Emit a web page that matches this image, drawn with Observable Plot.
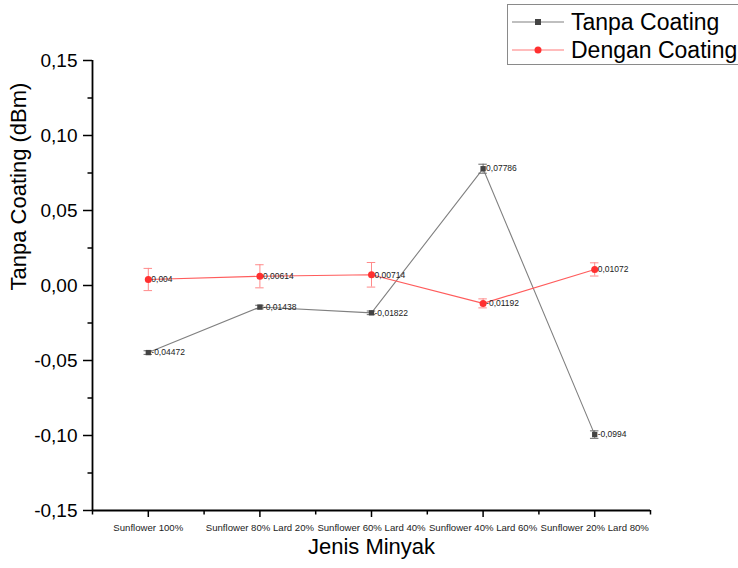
<!DOCTYPE html>
<html>
<head>
<meta charset="utf-8">
<script src="https://cdn.jsdelivr.net/npm/d3@7"></script>
<script src="https://cdn.jsdelivr.net/npm/@observablehq/plot@0.6"></script>
<style>
  html, body { margin: 0; padding: 0; background: #fff; overflow: hidden; }
  #wrap { position: relative; width: 738px; height: 568px; font-family: "Liberation Sans", Arial, sans-serif; }
  #legend { position: absolute; left: 507px; top: 4px; width: 250px; height: 61px; border: 1.5px solid #8a8a8a; background: #fff; box-sizing: border-box; }
  .lg-row { position: absolute; left: 0; height: 28px; width: 250px; }
  .lg-row svg { position: absolute; left: 0; top: 0; }
  .lg-row span { position: absolute; left: 63px; top: 0; line-height: 28px; font-size: 23px; color: #000; white-space: nowrap; }
</style>
</head>
<body>
<div id="wrap">
  <div id="chart"></div>
  <div id="legend"></div>
</div>
<script>
const categories = ["Sunflower 100%", "Sunflower 80% Lard 20%", "Sunflower 60% Lard 40%", "Sunflower 40% Lard 60%", "Sunflower 20% Lard 80%"];
const tanpaCoating = [-0.04472, -0.01438, -0.01822, 0.07786, -0.0994];
const tanpaError = [0.0012, 0.0012, 0.0012, 0.003, 0.0025];
const denganCoating = [0.004, 0.00614, 0.00714, -0.01192, 0.01072];
const denganError = [0.0074, 0.0077, 0.0082, 0.003, 0.0044];
const seriesNames = ["Tanpa Coating", "Dengan Coating"];
const yTicks = [-0.15, -0.10, -0.05, 0, 0.05, 0.10, 0.15];
const yMinorTicks = [-0.125, -0.075, -0.025, 0.025, 0.075, 0.125];
const xTicks = [1, 2, 3, 4, 5];
const xMinorTicks = [0.5, 1.5, 2.5, 3.5, 4.5, 5.5];
const yTitle = "Tanpa Coating (dBm)";
const xTitle = "Jenis Minyak";

const comma = v => String(v).replace(".", ",");
const tRows = tanpaCoating.map((v, i) => ({x: i + 1, y: v, e: tanpaError[i]}));
const dRows = denganCoating.map((v, i) => ({x: i + 1, y: v, e: denganError[i]}));

const grayLine = "#808080", grayMark = "#444444", grayErr = "#6a6a6a";
const redLine = "#ff5c5c", redMark = "#ff3030", redErr = "#ff8a8a";
const capHalf = 0.038;

function errMarks(rows, color) {
  return [
    Plot.ruleX(rows, {x: "x", y1: d => d.y - d.e, y2: d => d.y + d.e, stroke: color, strokeWidth: 1}),
    Plot.ruleY(rows, {y: d => d.y + d.e, x1: d => d.x - capHalf, x2: d => d.x + capHalf, stroke: color, strokeWidth: 1}),
    Plot.ruleY(rows, {y: d => d.y - d.e, x1: d => d.x - capHalf, x2: d => d.x + capHalf, stroke: color, strokeWidth: 1})
  ];
}

const chart = Plot.plot({
  width: 738,
  height: 568,
  marginLeft: 92,
  marginRight: 88,
  marginTop: 60,
  marginBottom: 58,
  style: {fontFamily: "'Liberation Sans', Arial, sans-serif", background: "#fff", color: "#000", overflow: "visible"},
  x: {domain: [0.5, 5.5]},
  y: {domain: [-0.15, 0.15]},
  marks: [
    Plot.axisY({ticks: yTicks, tickSize: 9, tickPadding: 6, tickFormat: d => d.toFixed(2).replace(".", ","), fontSize: 19, label: null, strokeWidth: 1.5}),
    Plot.axisY({ticks: yMinorTicks, tickSize: 4.5, tickFormat: () => "", label: null, strokeWidth: 1.5}),
    Plot.axisX({ticks: xTicks, tickSize: 7, tickPadding: 7, tickFormat: d => categories[d - 1], fontSize: 9.6, fill: "#222", label: null, strokeWidth: 1.5}),
    Plot.axisX({ticks: xMinorTicks, tickSize: 4.5, tickFormat: () => "", label: null, strokeWidth: 1.5}),
    Plot.ruleX([0.5], {stroke: "#000", strokeWidth: 1.8}),
    Plot.ruleY([-0.15], {stroke: "#000", strokeWidth: 1.8}),
    Plot.text([yTitle], {frameAnchor: "left", dx: -74, dy: 5, rotate: -90, fontSize: 22, fill: "#000"}),
    Plot.text([xTitle], {frameAnchor: "bottom", dy: 43, fontSize: 22, fill: "#000"}),
    Plot.line(tRows, {x: "x", y: "y", stroke: grayLine, strokeWidth: 1.1}),
    Plot.line(dRows, {x: "x", y: "y", stroke: redLine, strokeWidth: 1.1}),
    ...errMarks(tRows, grayErr),
    ...errMarks(dRows, redErr),
    Plot.dot(tRows, {x: "x", y: "y", symbol: "square", r: 3, fill: grayMark, stroke: "none"}),
    Plot.dot(dRows, {x: "x", y: "y", r: 3.5, fill: redMark, stroke: "none"}),
    Plot.text(tRows, {x: "x", y: "y", text: d => comma(d.y), textAnchor: "start", dx: 3, fontSize: 8.5, fill: "#222"}),
    Plot.text(dRows, {x: "x", y: "y", text: d => comma(d.y), textAnchor: "start", dx: 3, fontSize: 8.5, fill: "#222"})
  ]
});
document.getElementById("chart").appendChild(chart);

// Legend
const legend = document.getElementById("legend");
const styles = [
  {line: grayLine, mark: grayMark, shape: "square"},
  {line: "#ff7a7a", mark: redMark, shape: "circle"}
];
seriesNames.forEach((name, i) => {
  const row = document.createElement("div");
  row.className = "lg-row";
  row.style.top = (3 + i * 28) + "px";
  const s = styles[i];
  const markup = s.shape === "square"
    ? `<rect x="27" y="11" width="6" height="6" fill="${s.mark}"/>`
    : `<circle cx="30" cy="14" r="3.5" fill="${s.mark}"/>`;
  row.innerHTML = `<svg width="60" height="28"><line x1="4" x2="56" y1="14" y2="14" stroke="${s.line}" stroke-width="1.2"/>${markup}</svg><span>${name}</span>`;
  legend.appendChild(row);
});
</script>
</body>
</html>
